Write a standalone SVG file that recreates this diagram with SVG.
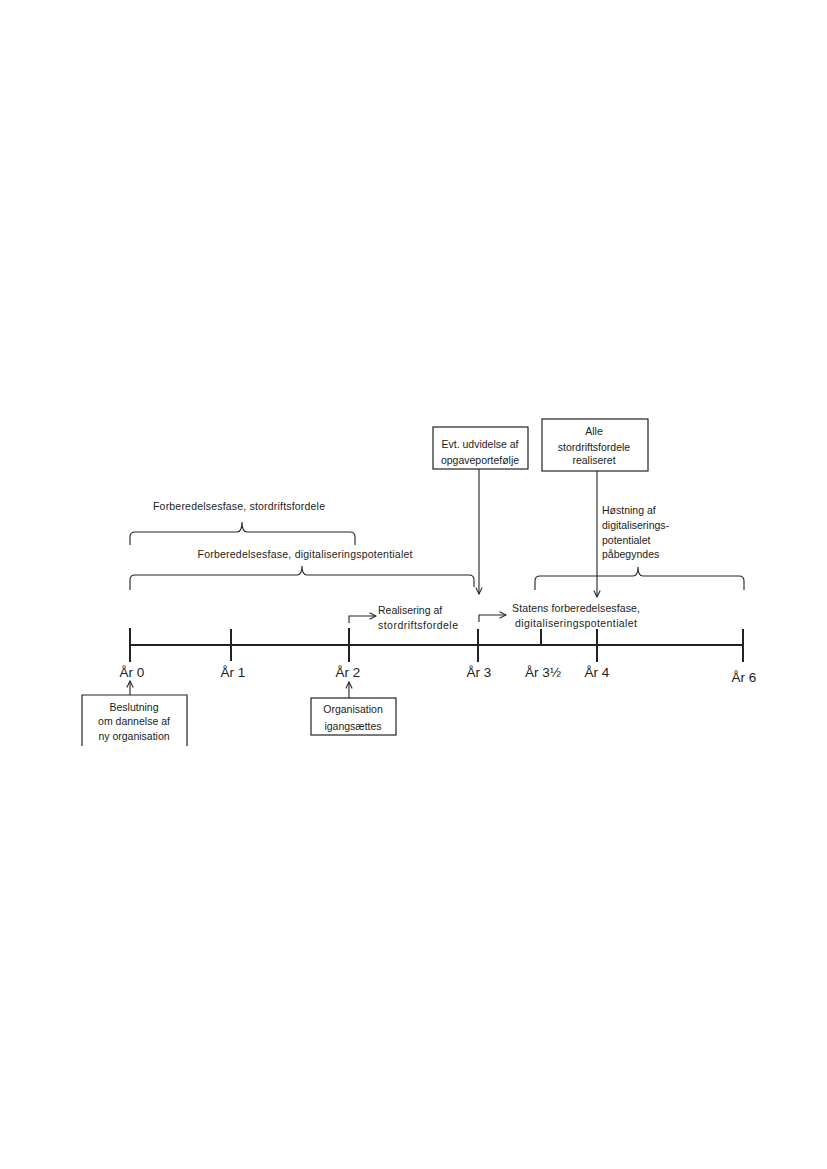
<svg xmlns="http://www.w3.org/2000/svg" width="827" height="1169" viewBox="0 0 827 1169">
<defs>
<marker id="arr" viewBox="0 0 10 10" refX="9" refY="5" markerWidth="8" markerHeight="8" orient="auto" markerUnits="userSpaceOnUse">
<path d="M1,1 L9,5 L1,9" fill="none" stroke="#222" stroke-width="1.3"/>
</marker>
<style>
text{font-family:"Liberation Sans",Arial,sans-serif;fill:#222;}
.s{font-size:10.5px;}
.y{font-size:13.5px;text-anchor:middle;}
.m{text-anchor:middle;}
.box{fill:#fff;stroke:#222;stroke-width:1.2;}
.ln{fill:none;stroke:#222;stroke-width:1.1;}
.tl{fill:none;stroke:#222;stroke-width:2;}
</style>
</defs>
<rect width="827" height="1169" fill="#fff"/>

<g id="timeline">
<line class="tl" x1="130" y1="645" x2="743" y2="645"/>
<line class="tl" x1="130" y1="628" x2="130" y2="662"/>
<line class="tl" x1="231" y1="629" x2="231" y2="661"/>
<line class="tl" x1="349" y1="628" x2="349" y2="662"/>
<line class="tl" x1="478" y1="629" x2="478" y2="662"/>
<line class="tl" x1="541" y1="629" x2="541" y2="645"/>
<line class="tl" x1="597" y1="629" x2="597" y2="662"/>
<line class="tl" x1="743" y1="629" x2="743" y2="662"/>
<text class="y" x="132" y="677">År 0</text>
<text class="y" x="233" y="677">År 1</text>
<text class="y" x="348" y="677">År 2</text>
<text class="y" x="479" y="677">År 3</text>
<text class="y" x="543" y="677">År 3½</text>
<text class="y" x="597" y="677">År 4</text>
<text class="y" x="744" y="682">År 6</text>
</g>

<g id="brace1">
<path class="ln" d="M130,545 V537 Q130,532 135,532 H237 Q242,532 242,522 Q242,532 247,532 H350 Q355,532 355,537 V545"/>
<text class="s m" x="239" y="510" textLength="172" lengthAdjust="spacing">Forberedelsesfase, stordriftsfordele</text>
</g>

<g id="brace2">
<path class="ln" d="M130,590 V580 Q130,575 135,575 H297 Q302,575 302,566 Q302,575 307,575 H469 Q474,575 474,580 V587"/>
<text class="s m" x="305" y="558" textLength="215" lengthAdjust="spacing">Forberedelsesfase, digitaliseringspotentialet</text>
</g>

<g id="brace3">
<path class="ln" d="M535,590 V581 Q535,576 540,576 H633 Q638,576 638,567 Q638,576 643,576 H739 Q744,576 744,581 V590"/>
<text class="s m" x="576" y="612" textLength="128" lengthAdjust="spacing">Statens forberedelsesfase,</text>
<text class="s m" x="576" y="627" textLength="122" lengthAdjust="spacing">digitaliseringspotentialet</text>
</g>

<g id="box-evt">
<rect class="box" x="433" y="427" width="95" height="42"/>
<text class="s m" x="480" y="448">Evt. udvidelse af</text>
<text class="s m" x="480" y="464">opgaveportefølje</text>
</g>

<g id="box-alle">
<rect class="box" x="542" y="419" width="106" height="52"/>
<text class="s m" x="594" y="435">Alle</text>
<text class="s m" x="594" y="451">stordriftsfordele</text>
<text class="s m" x="594" y="464">realiseret</text>
</g>

<g id="label-hostning">
<text class="s" x="602" y="514">Høstning af</text>
<text class="s" x="602" y="529">digitaliserings-</text>
<text class="s" x="602" y="544">potentialet</text>
<text class="s" x="602" y="558">påbegyndes</text>
</g>

<g id="label-realisering">
<text class="s" x="378" y="614">Realisering af</text>
<text class="s" x="378" y="629" textLength="80" lengthAdjust="spacing">stordriftsfordele</text>
</g>

<g id="box-beslutning">
<path class="box" d="M82,746 V695 H187 V746"/>
<text class="s m" x="134" y="711">Beslutning</text>
<text class="s m" x="134" y="725">om dannelse af</text>
<text class="s m" x="134" y="740">ny organisation</text>
</g>

<g id="box-organisation">
<rect class="box" x="311" y="698" width="85" height="37"/>
<text class="s m" x="353" y="713">Organisation</text>
<text class="s m" x="353" y="730">igangsættes</text>
</g>

<g id="connectors">
<line class="ln" x1="479" y1="469" x2="479" y2="594" marker-end="url(#arr)"/>
<line class="ln" x1="597" y1="471" x2="597" y2="597" marker-end="url(#arr)"/>
<polyline class="ln" points="349,623 349,616 376,616" marker-end="url(#arr)"/>
<polyline class="ln" points="479,622 479,615 506,615" marker-end="url(#arr)"/>
<line class="ln" x1="130" y1="695" x2="130" y2="681" marker-end="url(#arr)"/>
<line class="ln" x1="349" y1="698" x2="349" y2="682" marker-end="url(#arr)"/>
</g>
</svg>
